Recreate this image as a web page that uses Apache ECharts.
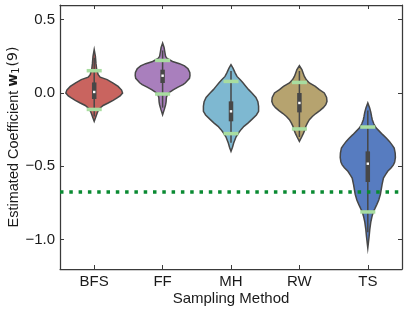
<!DOCTYPE html>
<html>
<head>
<meta charset="utf-8">
<script src="https://cdn.jsdelivr.net/npm/echarts@6/dist/echarts.min.js"></script>
<style>
html,body{margin:0;padding:0;background:#fff;}
#chart{width:407px;height:313px;}
</style>
</head>
<body>
<div id="chart"></div>
<script>
// ---- data ----
const categories = ['BFS', 'FF', 'MH', 'RW', 'TS'];
const yTicks = [-1.0, -0.5, 0.0, 0.5];

// violin density profiles: [value, relative density]
const bfsDensity = [[0.295,0],[0.25,1.2],[0.2,1.8],[0.16,2.5],[0.125,4],[0.108,6],[0.091,13],[0.068,19],[0.045,24],[0.02,27.5],[0.0,28.5],[-0.02,26],[-0.034,23],[-0.05,19],[-0.068,14],[-0.085,9],[-0.102,6],[-0.12,4],[-0.136,3],[-0.165,1.5],[-0.193,0]];
const ffDensity = [[0.34,0],[0.31,1.5],[0.28,2.2],[0.25,3],[0.235,4.5],[0.215,10],[0.2,17],[0.185,22],[0.165,25.5],[0.14,27.3],[0.12,27.5],[0.1,27],[0.085,25],[0.07,23],[0.057,20.5],[0.04,15.5],[0.023,11],[0.01,8],[-0.007,5],[-0.03,3.8],[-0.06,3.5],[-0.08,3],[-0.11,1.8],[-0.148,0]];
const mhDensity = [[0.193,0],[0.17,2],[0.136,4.3],[0.113,6],[0.091,9.3],[0.07,12],[0.045,15],[0.023,17.7],[0.0,21],[-0.03,25],[-0.06,27],[-0.09,27.7],[-0.125,27.7],[-0.15,25.5],[-0.18,21],[-0.205,17],[-0.227,13],[-0.25,10],[-0.273,7.5],[-0.3,5],[-0.341,2.7],[-0.37,1.5],[-0.398,0]];
const rwDensity = [[0.186,0],[0.16,2.5],[0.135,3.8],[0.113,5],[0.09,7],[0.068,10],[0.045,16],[0.023,20],[0.0,25],[-0.03,27.3],[-0.057,27.7],[-0.08,26.5],[-0.1,24],[-0.12,20.5],[-0.14,16.5],[-0.16,13],[-0.182,10],[-0.205,8],[-0.227,6.5],[-0.25,5.5],[-0.275,4],[-0.3,2.3],[-0.33,0]];
const tsDensity = [[-0.068,0],[-0.1,1.8],[-0.13,3],[-0.16,3.8],[-0.182,4.5],[-0.21,6],[-0.239,8.5],[-0.26,11.5],[-0.284,15],[-0.31,19],[-0.33,21.7],[-0.355,24.5],[-0.375,26.5],[-0.41,27.5],[-0.44,27.7],[-0.47,27],[-0.49,25.7],[-0.51,23.5],[-0.534,20],[-0.56,17.5],[-0.58,15.7],[-0.625,14.3],[-0.69,12.7],[-0.73,11],[-0.761,9],[-0.79,7],[-0.807,5.7],[-0.84,4.3],[-0.88,3],[-0.93,2],[-0.98,1.3],[-1.057,0]];
const densities = [bfsDensity, ffDensity, mhDensity, rwDensity, tsDensity];

// inner box
const boxQ1 = [-0.041, 0.068, -0.193, -0.132, -0.607];
const boxMedian = [0.007, 0.118, -0.125, -0.068, -0.482];
const boxQ3 = [0.072, 0.159, -0.057, 0.0, -0.398];
const whiskerLow = [-0.16, -0.10, -0.34, -0.30, -0.95];
const whiskerHigh = [0.24, 0.29, 0.15, 0.15, -0.12];

// light green percentile markers
const markerHigh = [0.152, 0.222, 0.079, 0.072, -0.232];
const markerLow = [-0.112, -0.007, -0.277, -0.245, -0.811];

// dotted reference line
const referenceValue = -0.671;

// ---- styling ----
const fillColors = ['#c9645f', '#a97fbd', '#7eb8d1', '#b6a36f', '#577cc0'];
const edgeColor = '#474747';
const markerColor = '#a8dda0';
const frameColor = '#3a3a3a';
const textColor = '#1a1a1a';
const FONT = '"Liberation Sans", Arial, sans-serif';
const maxDensity = 28.5;

const chart = echarts.init(document.getElementById('chart'), null, {renderer: 'canvas'});

function renderViolin(params, api) {
  const i = api.value(0);
  const band = api.size([1, 0])[0];
  const scale = 0.415 * band / maxDensity;
  const prof = densities[i];
  const left = [], right = [];
  for (const [v, d] of prof) {
    const p = api.coord([i, v]);
    left.push([p[0] - d * scale, p[1]]);
    right.push([p[0] + d * scale, p[1]]);
  }
  const pts = left.concat(right.reverse());
  const cx = api.coord([i, 0])[0];
  const wTop = api.coord([i, whiskerHigh[i]])[1];
  const wBot = api.coord([i, whiskerLow[i]])[1];
  const qTop = api.coord([i, boxQ3[i]])[1];
  const qBot = api.coord([i, boxQ1[i]])[1];
  const med = api.coord([i, boxMedian[i]])[1];
  const mH = api.coord([i, markerHigh[i]])[1];
  const mL = api.coord([i, markerLow[i]])[1];
  const mw = 0.22 * band;
  return {
    type: 'group',
    children: [
      {type: 'polygon', shape: {points: pts, smooth: 0}, style: {fill: fillColors[i], stroke: edgeColor, lineWidth: 1.5}},
      {type: 'line', shape: {x1: cx, y1: wTop, x2: cx, y2: wBot}, style: {stroke: edgeColor, lineWidth: 1.5}},
      {type: 'line', shape: {x1: cx, y1: qTop, x2: cx, y2: qBot}, style: {stroke: edgeColor, lineWidth: 4.5}},
      {type: 'rect', shape: {x: cx - 1.2, y: med - 1.2, width: 2.4, height: 2.4}, style: {fill: '#ffffff'}},
      {type: 'rect', shape: {x: cx - mw / 2, y: mH - 1.75, width: mw, height: 3.5}, style: {fill: markerColor}},
      {type: 'rect', shape: {x: cx - mw / 2, y: mL - 1.75, width: mw, height: 3.5}, style: {fill: markerColor}}
    ]
  };
}

const fmt = v => {
  const s = Math.abs(v).toFixed(1);
  return v < 0 ? '\u2212' + s : s;
};

const option = {
  animation: false,
  backgroundColor: '#ffffff',
  grid: {left: 60, right: 5, top: 5, bottom: 44, containLabel: false, outerBoundsMode: 'none'},
  xAxis: [
    {
      type: 'category', data: categories, position: 'bottom', boundaryGap: true,
      name: 'Sampling Method', nameLocation: 'middle', nameGap: 22, nameMoveOverlap: false,
      nameTextStyle: {fontFamily: FONT, fontSize: 15, color: textColor},
      axisLine: {show: true, onZero: false, lineStyle: {color: frameColor, width: 1.25}},
      axisTick: {show: true, inside: true, length: 4, alignWithLabel: true, lineStyle: {color: frameColor, width: 1}},
      axisLabel: {fontFamily: FONT, fontSize: 15, color: textColor, margin: 5},
      splitLine: {show: false}
    },
    {
      type: 'category', data: categories, position: 'top', boundaryGap: true,
      axisLine: {show: true, onZero: false, lineStyle: {color: frameColor, width: 1.25}},
      axisTick: {show: true, inside: true, length: 4, alignWithLabel: true, lineStyle: {color: frameColor, width: 1}},
      axisLabel: {show: false}, splitLine: {show: false}
    }
  ],
  yAxis: [
    {
      type: 'value', min: -1.2, max: 0.6, position: 'left',
      name: 'Estimated Coefficient {b|w}{s|1}{n|(9)}', nameLocation: 'middle', nameGap: 39, nameRotate: 90,
      nameMoveOverlap: false,
      nameTextStyle: {
        fontFamily: FONT, fontSize: 14.5, color: textColor,
        rich: {
          b: {fontFamily: '"DejaVu Sans"', fontWeight: 'bold', fontSize: 14, color: textColor},
          s: {fontFamily: '"DejaVu Sans"', fontSize: 10, color: textColor, verticalAlign: 'bottom', padding: [5, 1, 0, 0]},
          n: {fontFamily: '"DejaVu Sans"', fontSize: 14, color: textColor}
        }
      },
      axisLine: {show: true, onZero: false, lineStyle: {color: frameColor, width: 1.25}},
      axisTick: {show: true, inside: true, length: 4, customValues: yTicks, lineStyle: {color: frameColor, width: 1}},
      axisLabel: {fontFamily: FONT, fontSize: 15, color: textColor, margin: 5, customValues: yTicks, formatter: fmt},
      splitLine: {show: false}
    },
    {
      type: 'value', min: -1.2, max: 0.6, position: 'right',
      axisLine: {show: true, onZero: false, lineStyle: {color: frameColor, width: 1.25}},
      axisTick: {show: true, inside: true, length: 4, customValues: yTicks, lineStyle: {color: frameColor, width: 1}},
      axisLabel: {show: false}, splitLine: {show: false}
    }
  ],
  series: [
    {
      type: 'custom', name: 'violins', xAxisIndex: 0, yAxisIndex: 0, z: 2,
      data: categories.map((c, i) => [i, boxMedian[i]]),
      encode: {x: 0, y: 1},
      renderItem: renderViolin,
      silent: true, clip: false
    },
    {
      type: 'line', name: 'reference', xAxisIndex: 0, yAxisIndex: 0, z: 5,
      data: [], silent: true,
      markLine: {
        silent: true, symbol: ['none', 'none'], animation: false,
        label: {show: false},
        lineStyle: {color: '#0a8a32', width: 3.5, type: [3.5, 5.8], cap: 'butt'},
        emphasis: {disabled: true},
        data: [{yAxis: referenceValue}]
      }
    }
  ]
};
chart.setOption(option);
</script>
</body>
</html>
